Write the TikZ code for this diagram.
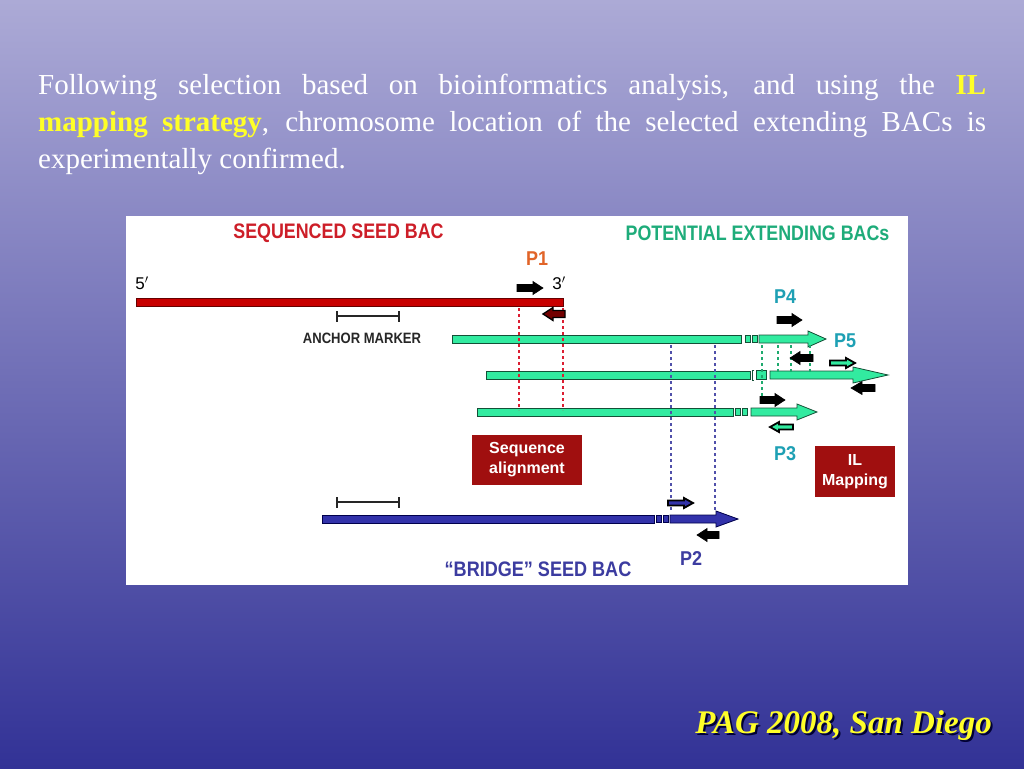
\documentclass[tikz,border=0pt]{standalone}
\usepackage{fontspec}
\setmainfont{Liberation Serif}
\setsansfont{Liberation Sans}
\definecolor{bgtop}{RGB}{172,170,214}
\definecolor{bgmid}{RGB}{136,135,203}
\definecolor{bgbot}{RGB}{50,50,150}
\definecolor{ttlyellow}{RGB}{255,255,40}
\definecolor{seqred}{RGB}{205,30,40}
\definecolor{barred}{RGB}{200,0,0}
\definecolor{potgreen}{RGB}{30,172,122}
\definecolor{pteal}{RGB}{30,160,180}
\definecolor{porange}{RGB}{225,100,40}
\definecolor{bacgreen}{RGB}{50,235,160}
\definecolor{gline}{RGB}{20,80,55}
\definecolor{bridgeblue}{RGB}{50,50,170}
\definecolor{bluetext}{RGB}{60,60,160}
\definecolor{boxred}{RGB}{160,15,15}
\definecolor{dotred}{RGB}{220,30,50}
\definecolor{dotblue}{RGB}{80,80,170}
\definecolor{dotgreen}{RGB}{30,170,110}
\newcommand\primer[5]{\filldraw[#5] (#1,#4-3.5) -- (#2,#4-3.5) -- (#2,#4-6.5) -- (#3,#4) -- (#2,#4+6.5) -- (#2,#4+3.5) -- (#1,#4+3.5) -- cycle;}
\newcommand\primersm[5]{\filldraw[#5] (#1,#4-2.5) -- (#2,#4-2.5) -- (#2,#4-5) -- (#3,#4) -- (#2,#4+5) -- (#2,#4+2.5) -- (#1,#4+2.5) -- cycle;}
\newcommand\bacarrow[5]{\filldraw[#5] (#1,#4-4) -- (#2,#4-4) -- (#2,#4-8) -- (#3,#4) -- (#2,#4+8) -- (#2,#4+4) -- (#1,#4+4) -- cycle;}
\begin{document}
\begin{tikzpicture}[x=1pt,y=-1pt,
  hdr/.style={font=\sffamily\bfseries\fontsize{21}{21}\selectfont, inner sep=0pt},
  plab/.style={font=\sffamily\bfseries\fontsize{20}{20}\selectfont, inner sep=0pt},
  prime/.style={font=\sffamily\fontsize{17}{17}\selectfont, inner sep=0pt},
  gbar/.style={fill=bacgreen, draw=gline, line width=0.8pt},
  bbar/.style={fill=bridgeblue, draw=black!70!blue, line width=0.8pt},
  rbar/.style={fill=barred, draw=black!60!red, line width=0.8pt},
  blk/.style={fill=black, draw=black, line width=0.6pt},
  dots/.style={line width=2.7pt, dash pattern=on 2.7pt off 3.3pt},
  redbox/.style={fill=boxred, text=white, align=center, inner sep=0pt,
    font=\sffamily\bfseries\fontsize{16}{20}\selectfont},
  anchorbar/.style={line width=1.6pt, draw=black!85}]
\useasboundingbox (0,0) rectangle (1024,768);
\shade[top color=bgtop, middle color=bgmid, bottom color=bgbot] (0,0) rectangle (1024,768);

% title text
\begin{scope}[every node/.style={anchor=base west, inner sep=0pt, text=white,
    font=\fontsize{29}{35}\selectfont}]
\node (l1) at (38,94) {\makebox[948pt][s]{Following selection based on bioinformatics analysis, and using the \textbf{\color{ttlyellow}IL}}};
\node (l2) at (38,131) {\makebox[948pt][s]{\textbf{\color{ttlyellow}mapping strategy}, chromosome location of the selected extending BACs is}};
\node (l3) at (38,168) {experimentally confirmed.};
\end{scope}

% white panel
\fill[white] (126,216) rectangle (908,585);

% headers
\node[hdr, text=seqred] (seqhdr) at (338.5,233) {\scalebox{0.85}[1]{SEQUENCED SEED BAC}};
\node[hdr, text=potgreen] (pothdr) at (757.5,233) {\scalebox{0.85}[1]{POTENTIAL EXTENDING BACs}};
\node[plab, text=porange] (p1) at (537,259) {\scalebox{0.9}[1]{P1}};
\node[prime] (five) at (142,283) {5$'$};
\node[prime] (three) at (559,283) {3$'$};

% red seed bar
\filldraw[rbar] (136,298) rectangle (563,306);
\draw[anchorbar] (337,316) -- (399,316) (337,311) -- (337,322) (399,311) -- (399,322);
\node[font=\sffamily\bfseries\fontsize{15}{15}\selectfont, inner sep=0pt, text=black!85] (anch) at (362,338) {\scalebox{0.87}[1]{ANCHOR MARKER}};

% green extending BACs
\filldraw[gbar] (452,335) rectangle (741,343);
\filldraw[gbar] (745,335.5) rectangle (750,342.5);
\filldraw[gbar] (752,335.5) rectangle (757,342.5);
\bacarrow{759}{808}{826}{339}{gbar}

\filldraw[gbar] (486,371) rectangle (750,379);
\draw[gline, line width=0.8pt] (754,370) -- (752.5,370) -- (752.5,380) -- (754,380);
\filldraw[gbar] (756,370.5) rectangle (766,379.5);
\bacarrow{770}{853}{888}{375}{gbar}

\filldraw[gbar] (477,408) rectangle (733,416);
\filldraw[gbar] (735,408.5) rectangle (740,415.5);
\filldraw[gbar] (742,408.5) rectangle (747,415.5);
\bacarrow{751}{797}{817}{412}{gbar}

% bridge seed BAC
\draw[anchorbar] (337,502) -- (399,502) (337,497) -- (337,508) (399,497) -- (399,508);
\filldraw[bbar] (322,515) rectangle (654,523);
\filldraw[bbar] (656,515.5) rectangle (661,522.5);
\filldraw[bbar] (663,515.5) rectangle (668,522.5);
\bacarrow{670}{716}{738}{519}{bbar}

% dotted alignment lines
\draw[dots, dotred] (519,308) -- (519,410) (563,308) -- (563,410);
\draw[dots, dotblue] (671,345) -- (671,512) (715,345) -- (715,512);
\draw[dots, dotgreen] (762,345) -- (762,398) (778,345) -- (778,373) (791,345) -- (791,373) (810,345) -- (810,373);

% primers
\primer{517}{533}{543}{288}{blk}
\primer{565}{553}{543}{314}{fill=black!55!red, draw=black, line width=1.3pt}
\primer{777}{792}{802}{320}{blk}
\primer{813}{800}{790}{358}{blk}
\primersm{830}{846}{855}{363}{fill=bacgreen, draw=black, line width=1.8pt}
\primer{875}{862}{851}{388}{blk}
\primer{760}{775}{785}{400}{blk}
\primersm{793}{779}{770}{427}{fill=bacgreen, draw=black, line width=1.8pt}
\primersm{668}{684}{693}{503}{fill=bridgeblue, draw=black, line width=1.8pt}
\primer{719}{707}{697}{535}{blk}

% primer labels
\node[plab, text=pteal] (p4) at (785,297) {\scalebox{0.9}[1]{P4}};
\node[plab, text=pteal] (p5) at (845,341) {\scalebox{0.9}[1]{P5}};
\node[plab, text=pteal] (p3) at (785,454) {\scalebox{0.9}[1]{P3}};
\node[plab, text=bluetext] (p2) at (691,559) {\scalebox{0.9}[1]{P2}};

% boxes
\node[redbox, minimum width=110pt, minimum height=50pt] (seqalign) at (527,460) {Sequence\\alignment};
\node[redbox, minimum width=80pt, minimum height=51pt] (ilmap) at (855,471.5) {IL\\Mapping};

\node[hdr, text=bluetext] (bridge) at (538,569) {\scalebox{0.86}[1]{``BRIDGE'' SEED BAC}};

% footer
\node[anchor=base east, inner sep=0pt, font=\fontsize{33}{33}\selectfont\bfseries\itshape, text=black!80!blue] (footsh) at (994,735) {PAG 2008, San Diego};
\node[anchor=base east, inner sep=0pt, font=\fontsize{33}{33}\selectfont\bfseries\itshape, text=ttlyellow] (foot) at (992,733) {PAG 2008, San Diego};
\end{tikzpicture}
\end{document}
